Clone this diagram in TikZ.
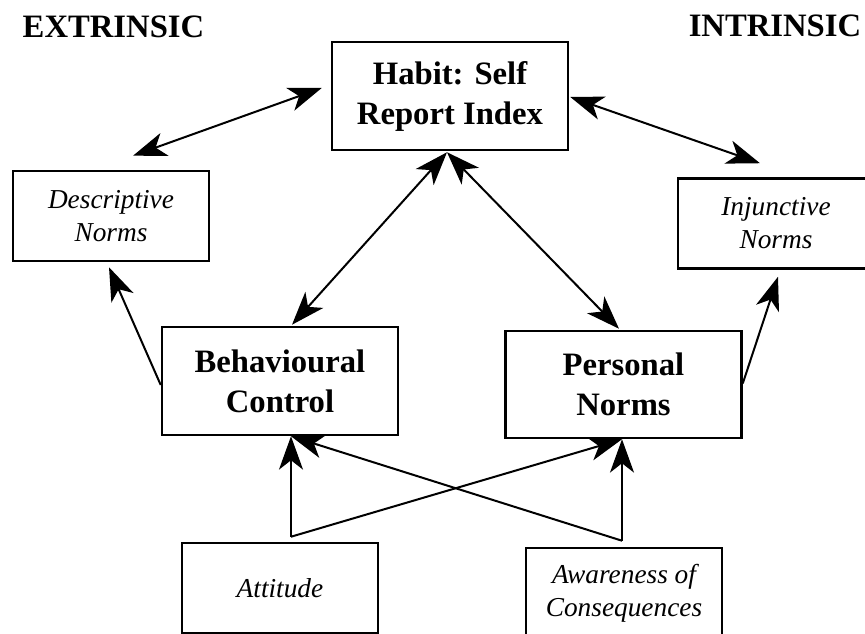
\documentclass[tikz,border=0pt]{standalone}
\usepackage{fontspec}
\setmainfont{Liberation Serif}
\usetikzlibrary{calc, arrows.meta}
\tikzset{
    % boxes
    mainbox/.style={draw, line width=1.9pt, align=center, inner sep=0pt,
        minimum width=236*0.75pt, minimum height=108*0.75pt,
        font=\bfseries\fontsize{24.5}{30}\selectfont},
    sidebox/.style={draw, line width=1.9pt, align=center, inner sep=0pt,
        minimum width=196*0.75pt, minimum height=90*0.75pt,
        font=\itshape\fontsize{20.5}{24.75}\selectfont},
    heading/.style={font=\bfseries\fontsize{24.5}{30}\selectfont, inner sep=0pt},
    % connectors
    link/.style={line width=1.5pt, -{Stealth[length=25pt, width=18pt, inset=7pt]}},
    twoway/.style={line width=1.5pt, {Stealth[length=25pt, width=18pt, inset=7pt]}-{Stealth[length=25pt, width=18pt, inset=7pt]}},
}

\begin{document}
\begin{tikzpicture}[x=0.75pt, y=-0.75pt]
    \useasboundingbox (0,0) rectangle (865,634);
    \clip (0,0) rectangle (865,634);

    \node (extr) [heading] at (113.5,27) {EXTRINSIC};
    \node (intr) [heading] at (775,26) {INTRINSIC};

    \node (habit) [mainbox] at (450,96) {Habit: Self\\Report Index};
    \node (descr) [sidebox] at (111,216) {Descriptive\\Norms};
    \node (injunc) [sidebox] at (776,223.5) {Injunctive\\Norms};
    \node (behav) [mainbox] at (280,381) {Behavioural\\Control};
    \node (pers) [mainbox, minimum height=107*0.75pt] at (623.5,384.5) {Personal\\Norms};
    \node (att) [sidebox] at (280,588) {Attitude};
    \node (aware) [sidebox] at (624,593) {Awareness of\\Consequences};

    \coordinate (attout) at ($(att.north)+(11,-5)$);
    \coordinate (awout) at ($(aware.north)+(-2,-6)$);

    \draw[twoway] ($(habit.west)+(-9,-8)$) -- ($(descr.north)+(22,-14)$);
    \draw[twoway] ($(habit.east)+(1,1)$) -- ($(injunc.north)+(-16,-14)$);
    \draw[twoway] ($(habit.south)+(-3,1)$) -- ($(behav.north)+(12,-1)$);
    \draw[twoway] ($(habit.south)+(-3,1)$) -- ($(pers.north)+(-4.5,-1)$);

    \draw[link] ($(behav.west)+(0,4)$) -- ($(descr.south)+(-2,5)$);
    \draw[link] ($(pers.east)+(0,-1)$) -- ($(injunc.south)+(2,7)$);

    \draw[link] (attout) -- (attout |- behav.south);
    \draw[link] (attout) -- (awout |- pers.south);
    \draw[link] (awout) -- (awout |- pers.south);
    \draw[link] (awout) -- (attout |- behav.south);
\end{tikzpicture}
\end{document}
